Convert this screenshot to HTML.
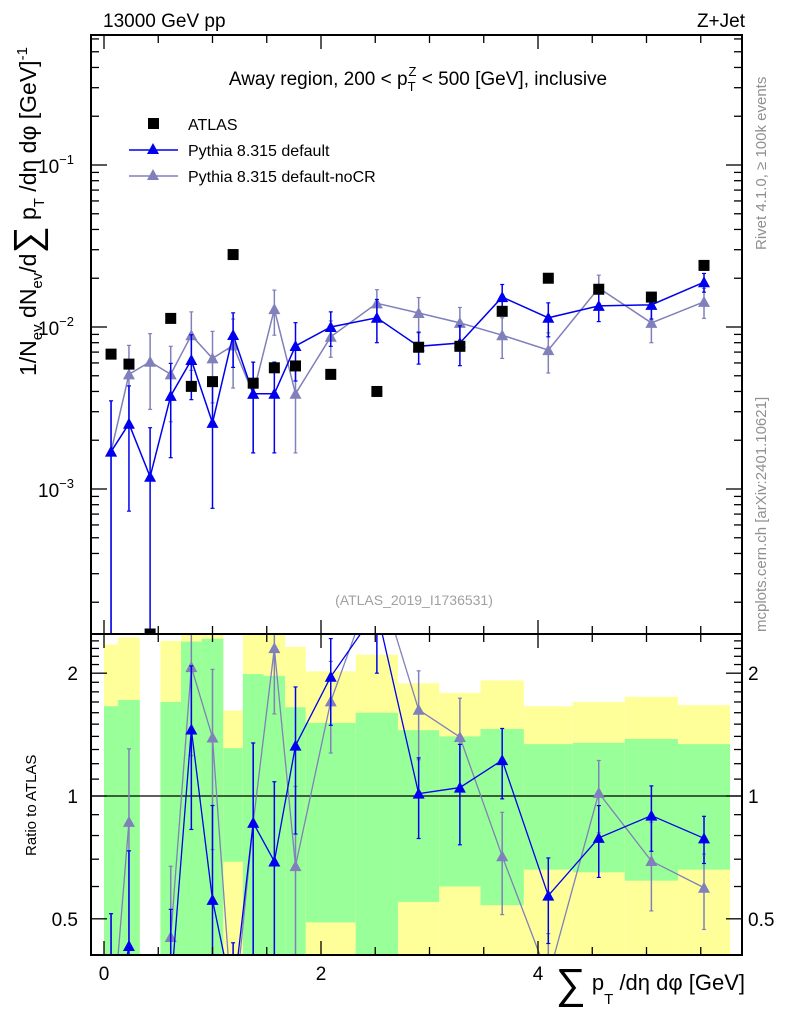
<!DOCTYPE html>
<html><head><meta charset="utf-8"><style>
html,body{margin:0;background:#fff;width:786px;height:1024px;overflow:hidden}
svg{display:block;font-family:"Liberation Sans",sans-serif}
</style></head><body>
<svg id="chart" width="786" height="1024" viewBox="0 0 786 1024" xmlns="http://www.w3.org/2000/svg">
<defs>
<clipPath id="clipMain"><rect x="91" y="35" width="651" height="599"/></clipPath>
<clipPath id="clipRatio"><rect x="91" y="634" width="651" height="321"/></clipPath>
</defs>
<g id="ratioBands" clip-path="url(#clipRatio)"></g>
<g id="ratioMarks" clip-path="url(#clipRatio)"></g>
<g id="mainMarks" clip-path="url(#clipMain)"></g>
<g id="axes"></g>

<text x="103" y="27" font-size="19">13000 GeV pp</text>
<text x="745" y="27" font-size="19" text-anchor="end">Z+Jet</text>
<text x="418" y="85" font-size="19" text-anchor="middle">Away region, 200 &lt; p<tspan font-size="13" dy="6">T</tspan><tspan font-size="13" dx="-7" dy="-15">Z</tspan><tspan dy="9"> &lt; 500 [GeV], inclusive</tspan></text>
<text x="414" y="605" font-size="14" fill="#a0a0a0" text-anchor="middle">(ATLAS_2019_I1736531)</text>
<text transform="translate(766,250) rotate(-90)" font-size="15" fill="#909090">Rivet 4.1.0, ≥ 100k events</text>
<text transform="translate(766,632) rotate(-90)" font-size="15" fill="#909090">mcplots.cern.ch [arXiv:2401.10621]</text>

<g>
<rect x="148" y="118" width="11" height="11" fill="#000"/>
<text x="188" y="130" font-size="16">ATLAS</text>
<line x1="129" y1="150" x2="178" y2="150" stroke="#0000ee" stroke-width="1.5"/>
<path d="M153,143 L159,154 L147,154 Z" fill="#0000ee"/>
<text x="188" y="156" font-size="16">Pythia 8.315 default</text>
<line x1="129" y1="176" x2="178" y2="176" stroke="#8080bb" stroke-width="1.5"/>
<path d="M153,169 L159,180 L147,180 Z" fill="#8080bb"/>
<text x="188" y="182" font-size="16">Pythia 8.315 default-noCR</text>
</g>

<text transform="translate(36,376) rotate(-90)" font-size="23">1/N<tspan font-size="15" dy="6">ev</tspan><tspan dy="-6"> dN</tspan><tspan font-size="15" dy="6">ev</tspan><tspan dy="-6">/d</tspan><tspan font-size="38" dy="4">∑</tspan><tspan dy="-4"> p</tspan><tspan font-size="15" dy="8">T</tspan><tspan dy="-8"> /dη dφ  [GeV]</tspan><tspan font-size="15" dy="-9">-1</tspan></text>
<text transform="translate(36,856) rotate(-90)" font-size="15">Ratio to ATLAS</text>
<text x="745" y="990" font-size="22" text-anchor="end"><tspan font-size="42" dy="8">∑</tspan><tspan dy="-8"> p</tspan><tspan font-size="15" dy="14">T</tspan><tspan dy="-14"> /dη dφ [GeV]</tspan></text>
</svg>
<script>
const binEdges = [0,0.13,0.33,0.52,0.71,0.90,1.10,1.28,1.47,1.67,1.86,2.32,2.71,3.09,3.47,3.87,4.32,4.80,5.29,5.77];
const atlasVals = [6.8e-3,5.9e-3,0,1.13e-2,4.3e-3,4.6e-3,2.8e-2,4.5e-3,5.6e-3,5.75e-3,5.1e-3,4.0e-3,7.5e-3,7.6e-3,1.25e-2,2.0e-2,1.71e-2,1.53e-2,2.4e-2];
const atlasStatRel = [0.66,0.72,0,0.70,1.39,1.43,0.31,0.99,0.97,0.65,0.51,0.60,0.45,0.40,0.46,0.34,0.35,0.38,0.34];
const atlasTotRel = [1.35,1.45,0,1.40,2.0,2.0,0.62,1.5,1.5,1.32,1.02,1.22,0.89,0.79,0.92,0.66,0.70,0.75,0.67];
const defVals = [1.70e-3,2.53e-3,1.19e-3,3.76e-3,6.26e-3,2.56e-3,8.93e-3,3.87e-3,3.87e-3,7.64e-3,1.0e-2,1.14e-2,7.6e-3,7.97e-3,1.53e-2,1.14e-2,1.35e-2,1.37e-2,1.89e-2];
const defErrs = [1.8e-3,1.8e-3,1.2e-3,2.2e-3,2.7e-3,1.8e-3,3.3e-3,2.2e-3,2.2e-3,3.0e-3,2.4e-3,3.4e-3,1.7e-3,2.2e-3,3.0e-3,2.7e-3,2.7e-3,2.5e-3,2.5e-3];
const nocrVals = [1.7e-3,5.1e-3,6.1e-3,5.1e-3,8.9e-3,6.4e-3,7.7e-3,3.87e-3,1.29e-2,3.87e-3,8.7e-3,1.40e-2,1.22e-2,1.06e-2,8.9e-3,7.2e-3,1.74e-2,1.06e-2,1.43e-2];
const nocrErrs = [1.8e-3,2.6e-3,3.0e-3,2.5e-3,3.5e-3,3.0e-3,3.5e-3,2.2e-3,4.0e-3,2.2e-3,2.2e-3,3.0e-3,3.0e-3,2.6e-3,2.5e-3,2.0e-3,3.5e-3,2.6e-3,3.0e-3];
const xTickLabels = ["0","2","4"];
const mainTickLabels = ["-1","-2","-3"];
const ratioTickLabels = ["0.5","1","2"];

const NS="http://www.w3.org/2000/svg";
const X=v=>104+v*108.5;
const YM=v=>327-(Math.log10(v)+2)*162;
const YR=r=>796-Math.log10(r)*408;
const MT=35,MB=634,RT=634,RB=955;
function mk(tag,attrs,parent){const e=document.createElementNS(NS,tag);for(const k in attrs)e.setAttribute(k,attrs[k]);parent.appendChild(e);return e;}
const mainG=document.getElementById('mainMarks'),ratioG=document.getElementById('ratioMarks'),bandG=document.getElementById('ratioBands'),axG=document.getElementById('axes');
const centers=binEdges.slice(0,-1).map((e,i)=>(e+binEdges[i+1])/2);
const clampY=(y,t,b)=>Math.min(b,Math.max(t,y));
// clip a polyline to y-range [t,b], returning list of segments (each a list of points)
function clipPolyline(pts,t,b){
  const out=[];let cur=[];
  for(let i=0;i<pts.length-1;i++){
    let [x1,y1]=pts[i],[x2,y2]=pts[i+1];
    let u0=0,u1=1;const dy=y2-y1;
    if(dy===0){if(y1<t||y1>b)continue;}
    else{
      let ua=(t-y1)/dy,ub=(b-y1)/dy;
      if(ua>ub)[ua,ub]=[ub,ua];
      u0=Math.max(0,ua);u1=Math.min(1,ub);
      if(u0>u1){if(cur.length)out.push(cur);cur=[];continue;}
    }
    const p0=[x1+(x2-x1)*u0,y1+dy*u0],p1=[x1+(x2-x1)*u1,y1+dy*u1];
    if(!cur.length||u0>0){if(cur.length)out.push(cur);cur=[p0];}
    cur.push(p1);
    if(u1<1){out.push(cur);cur=[];}
  }
  if(cur.length>1)out.push(cur);
  return out.filter(s=>s.length>1);
}

for(let i=0;i<atlasVals.length;i++){
  if(!(atlasVals[i]>0))continue;
  const x1=X(binEdges[i]),x2=X(binEdges[i+1]);
  const t=atlasTotRel[i],s=atlasStatRel[i];
  const band=(rel,fill,name)=>{
    const y1=clampY(YR(1+rel),RT,RB),y2=1-rel>0?clampY(YR(1-rel),RT,RB):RB;
    const r=mk('rect',{x:x1,y:y1,width:x2-x1,height:y2-y1,fill:fill},bandG);
    
    
  };
  band(t,'#ffff99','ratio-total-band');
  band(s,'#99ff99','ratio-stat-band');
}
const one=mk('line',{x1:91,x2:742,y1:YR(1),y2:YR(1),stroke:'#000','stroke-width':1.3},bandG);



function tri(g,x,y,col,name,t,b){
  if(y<t||y>b)return;
  const p=mk('path',{d:`M${x},${y-6} L${x+6},${y+5} L${x-6},${y+5} Z`,fill:col},g);
  
  
}
function errbar(g,x,y1,y2,col,t,b){
  const a=clampY(y1,t,b),c=clampY(y2,t,b);
  if(a===c)return;
  mk('line',{x1:x,x2:x,y1:a,y2:c,stroke:col,'stroke-width':1.5},g);
  if(y1>=t&&y1<=b)mk('line',{x1:x-2,x2:x+2,y1:a,y2:a,stroke:col,'stroke-width':1.2},g);
  if(y2>=t&&y2<=b)mk('line',{x1:x-2,x2:x+2,y1:c,y2:c,stroke:col,'stroke-width':1.2},g);
}
function series(vals,errs,col,name){
  const pts=vals.map((v,i)=>[X(centers[i]),YM(v)]);
  clipPolyline(pts,MT,MB).forEach(s=>{
    const pl=mk('polyline',{points:s.map(p=>p.join(',')).join(' '),fill:'none',stroke:col,'stroke-width':1.5},mainG);
    
    
  });
  vals.forEach((v,i)=>{
    const lo=v-errs[i];
    errbar(mainG,pts[i][0],YM(v+errs[i]),lo>0?YM(lo):MB+10,col,MT,MB);
  });
  vals.forEach((v,i)=>tri(mainG,pts[i][0],pts[i][1],col,name+'-point',MT,MB));
  let seg=[];
  const segs=[];
  vals.forEach((v,i)=>{
    if(!(atlasVals[i]>0)){if(seg.length)segs.push(seg);seg=[];return;}
    seg.push([X(centers[i]),YR(v/atlasVals[i])]);
  });
  if(seg.length)segs.push(seg);
  segs.forEach(s=>{
    clipPolyline(s,RT,RB).forEach(c=>{
      const l=mk('polyline',{points:c.map(p=>p.join(',')).join(' '),fill:'none',stroke:col,'stroke-width':1.3},ratioG);
      
      
    });
  });
  vals.forEach((v,i)=>{
    if(!(atlasVals[i]>0))return;
    const r=v/atlasVals[i],e=errs[i]/atlasVals[i];
    errbar(ratioG,X(centers[i]),YR(r+e),r-e>0?YR(r-e):RB+10,col,RT,RB);
    tri(ratioG,X(centers[i]),YR(r),col,name+'-ratio-point',RT,RB);
  });
}
series(nocrVals,nocrErrs,'#8080bb','pythia-nocr');
series(defVals,defErrs,'#0000ee','pythia-default');
atlasVals.forEach((v,i)=>{
  const y=v>0?YM(v):MB;
  const r=mk('rect',{x:X(centers[i])-5.5,y:y-5.5,width:11,height:11,fill:'#000'},mainG);
  
  
});

[[35,634],[634,955]].forEach(([t,b],k)=>{
  const f=mk('rect',{x:91,y:t,width:651,height:b-t,fill:'none',stroke:'#000','stroke-width':2},axG);
  
  
});
for(let k=0;k<=11;k++){
  const v=k*0.5,x=X(v),maj=(k%4===0),L=maj?14:8;
  [[35,1],[634,-1],[634,1],[955,-1]].forEach(([y,d])=>mk('line',{x1:x,x2:x,y1:y,y2:y+d*L,stroke:'#000','stroke-width':1.3},axG));
}
xTickLabels.forEach((t,i)=>{
  const e=mk('text',{x:X(i*2),y:980,'font-size':19,'text-anchor':'middle'},axG);e.textContent=t;
  
  
});
for(let d=-4;d<=0;d++)for(let m=1;m<=9;m++){
  const y=YM(m*Math.pow(10,d));
  if(y<35||y>634)continue;
  const L=m===1?16:8;
  mk('line',{x1:91,x2:91+L,y1:y,y2:y,stroke:'#000','stroke-width':1.3},axG);
  mk('line',{x1:742,x2:742-L,y1:y,y2:y,stroke:'#000','stroke-width':1.3},axG);
}
mainTickLabels.forEach((t,i)=>{
  const y=YM(Math.pow(10,-(i+1)));
  const e=mk('text',{x:38,y:y+8,'font-size':19},axG);
  
  
  e.textContent='10';
  const sp=mk('tspan',{'font-size':13,dy:-9},e);
  sp.textContent=t.replace('-','\u2212');
});
for(let k=4;k<=25;k++){
  const r=k/10,y=YR(r);
  if(y<634||y>955)continue;
  const L=(k===5||k===10||k===20)?16:8;
  mk('line',{x1:91,x2:91+L,y1:y,y2:y,stroke:'#000','stroke-width':1.3},axG);
  mk('line',{x1:742,x2:742-L,y1:y,y2:y,stroke:'#000','stroke-width':1.3},axG);
}
ratioTickLabels.forEach(t=>{
  const y=YR(parseFloat(t));
  let e=mk('text',{x:78,y:y+7,'font-size':19,'text-anchor':'end'},axG);e.textContent=t;
  
  
  e=mk('text',{x:748,y:y+7,'font-size':19},axG);e.textContent=t;
  
  
});
</script>
</body></html>
